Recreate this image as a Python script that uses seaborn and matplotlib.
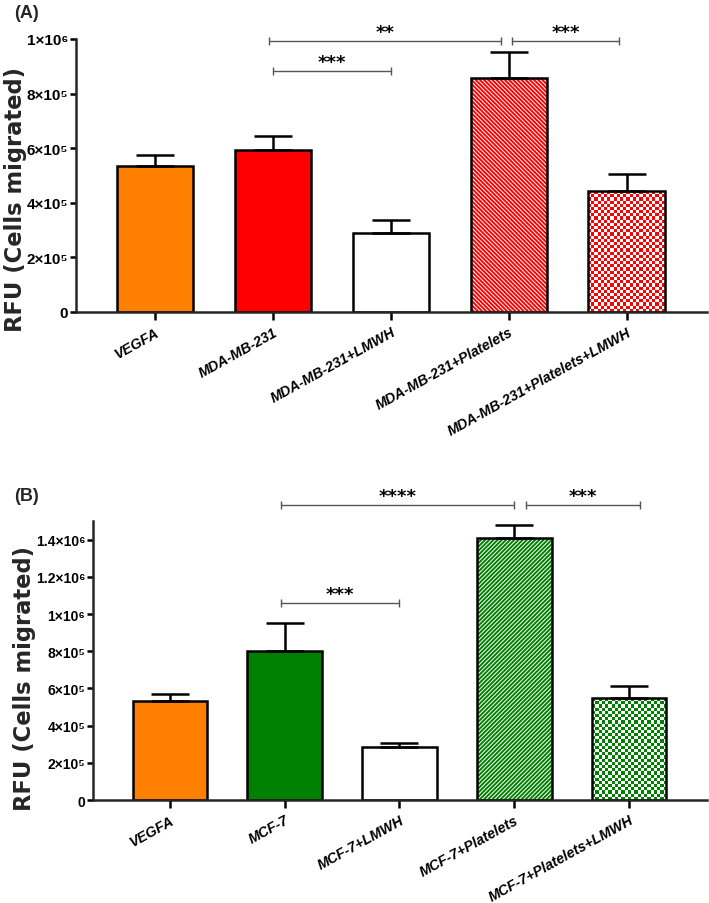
import numpy as np
import matplotlib
matplotlib.use('Agg')
import matplotlib.pyplot as plt
from matplotlib.colors import ListedColormap
import seaborn as sns

# panel A data
groups_a = ['VEGFA', 'MDA-MB-231', 'MDA-MB-231+LMWH', 'MDA-MB-231+Platelets', 'MDA-MB-231+Platelets+LMWH']
mean_a = [5.35e5, 5.95e5, 2.9e5, 8.57e5, 4.42e5]
sem_a = [0.40e5, 0.50e5, 0.47e5, 0.95e5, 0.63e5]
colors_a = ['#FF8000', '#FF0000', 'white', '#FF0000', '#FF0000']
fills_a = ['solid', 'solid', 'solid', 'stripe', 'checker']
ticks_a = [0, 2e5, 4e5, 6e5, 8e5, 1e6]
ticklabels_a = ['0', '2×10⁵', '4×10⁵', '6×10⁵', '8×10⁵', '1×10⁶']
brackets_a = [(1.0, 2.0, 0.883e6, '***'), (0.97, 2.93, 0.993e6, '**'), (3.03, 3.93, 0.993e6, '***')]

# panel B data
groups_b = ['VEGFA', 'MCF-7', 'MCF-7+LMWH', 'MCF-7+Platelets', 'MCF-7+Platelets+LMWH']
mean_b = [5.32e5, 8.0e5, 2.85e5, 1.41e6, 5.48e5]
sem_b = [0.38e5, 1.5e5, 0.21e5, 0.70e5, 0.65e5]
colors_b = ['#FF8000', '#008000', 'white', '#008000', '#008000']
fills_b = ['solid', 'solid', 'solid', 'stripe', 'checker']
ticks_b = [0, 2e5, 4e5, 6e5, 8e5, 1e6, 1.2e6, 1.4e6]
ticklabels_b = ['0', '2×10⁵', '4×10⁵', '6×10⁵', '8×10⁵', '1×10⁶', '1.2×10⁶', '1.4×10⁶']
brackets_b = [(0.97, 2.0, 1.06e6, '***'), (0.97, 3.0, 1.586e6, '****'), (3.1, 4.1, 1.586e6, '***')]

sns.set_style('ticks')
plt.rcParams['font.family'] = ['Liberation Sans', 'DejaVu Sans']
plt.rcParams['hatch.linewidth'] = 1.4
plt.rcParams['axes.linewidth'] = 1.8

fig = plt.figure(figsize=(7.09, 9.04), dpi=100)


def checker(ax, patch, color, cell_px=3.2):
    # checkerboard fill clipped to the bar
    x0, w, h = patch.get_x(), patch.get_width(), patch.get_height()
    p0 = ax.transData.transform((x0, 0))
    p1 = ax.transData.transform((x0 + w, h))
    nx = max(1, int(round((p1[0] - p0[0]) / cell_px)))
    ny = max(1, int(round((p1[1] - p0[1]) / cell_px)))
    grid = np.indices((ny, nx)).sum(axis=0) % 2
    im = ax.imshow(grid, cmap=ListedColormap(['white', color]), extent=(x0, x0 + w, 0, h),
                   aspect='auto', interpolation='nearest', origin='lower', zorder=1.5)
    im.set_clip_path(patch)


def panel(rect, groups, means, sems, colors, fills, hatch, ymax, ticks, ticklabels,
          brackets, tick_fs, label_xy):
    ax = fig.add_axes(rect)
    sns.barplot(x=groups, y=means, hue=groups, palette=colors, legend=False, saturation=1,
                width=0.65, linewidth=0, errorbar=None, ax=ax)
    bars = list(ax.patches)
    ax.set_xlim(-0.67, 4.68)
    ax.set_ylim(0, ymax)
    for p, c, f in zip(bars, colors, fills):
        if f == 'stripe':
            p.set_facecolor('white')
            p.set_edgecolor(c)
            p.set_linewidth(0)
            p.set_hatch(hatch)
        elif f == 'checker':
            p.set_facecolor('white')
            checker(ax, p, c)
    # black outlines
    sns.barplot(x=groups, y=means, fill=False, color='black', width=0.65,
                linewidth=1.8, errorbar=None, ax=ax)
    for p in ax.patches[len(bars):]:
        p.set_zorder(2)
    ax.errorbar(range(len(groups)), means, yerr=[[0] * len(sems), sems], fmt='none',
                ecolor='black', elinewidth=1.8, capsize=14, capthick=1.8, zorder=3)
    ax.set_xlim(-0.67, 4.68)
    ax.set_ylim(0, ymax)

    for x1, x2, y, star in brackets:
        ax.plot([x1, x2], [y, y], color='#555555', lw=1, clip_on=False, zorder=4)
        ax.plot([x1, x2], [y, y], ls='none', marker='|', ms=6, mew=1,
                color='#555555', clip_on=False, zorder=4)
        ax.text((x1 + x2) / 2, y, star, ha='center', va='bottom', fontsize=13,
                fontweight='bold', family='DejaVu Sans', color='black', clip_on=False)

    sns.despine(ax=ax)
    ax.set_yticks(ticks)
    ax.set_yticklabels(ticklabels, fontsize=tick_fs, fontweight='bold')
    ax.set_xticks(range(len(groups)))
    ax.set_xticklabels(groups, rotation=29, ha='right', va='top', rotation_mode='anchor',
                       fontsize=10.3, fontweight='bold', fontstyle='italic')
    ax.tick_params(axis='y', length=4.5, width=1.8, pad=1, colors='black')
    ax.tick_params(axis='x', length=6, width=1.8, pad=3, colors='black')
    ax.set_xlabel('')
    ax.set_ylabel('RFU (Cells migrated)', fontsize=16.3, fontweight='bold', family='DejaVu Sans')
    ax.yaxis.set_label_coords(*label_xy)
    return ax


panel([0.1072, 0.6538, 0.89, 0.302], groups_a, mean_a, sem_a, colors_a, fills_a, '\\' * 8,
      1e6, ticks_a, ticklabels_a, brackets_a, 11, (-0.078, 0.415))
panel([0.1312, 0.1139, 0.866, 0.3086], groups_b, mean_b, sem_b, colors_b, fills_b, '/' * 8,
      1.5e6, ticks_b, ticklabels_b, brackets_b, 10, (-0.093, 0.44))

fig.text(0.02, 1 - 13 / 904, '(A)', fontsize=13, fontweight='bold', va='center')
fig.text(0.02, 1 - 497 / 904, '(B)', fontsize=13, fontweight='bold', va='center')

fig.savefig('out.png', dpi=100)
